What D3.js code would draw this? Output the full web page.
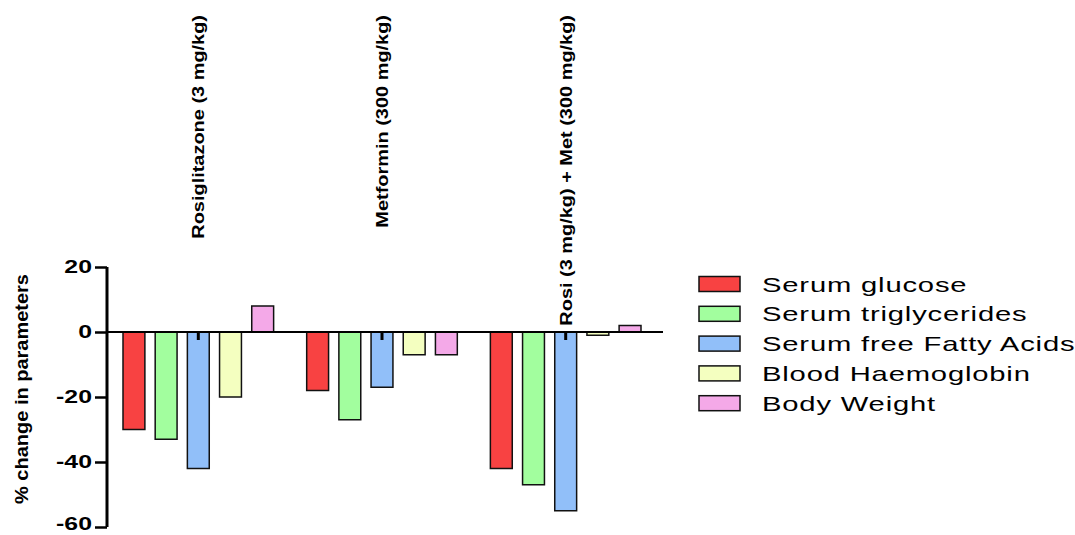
<!DOCTYPE html>
<html>
<head>
<meta charset="utf-8">
<script src="https://cdn.jsdelivr.net/npm/d3@7"></script>
<style>
  body { margin: 0; background: #fff; }
  text { font-family: "Liberation Sans", Arial, sans-serif; fill: #000; }
</style>
</head>
<body>
<div id="chart"></div>
<script>
var width = 1075,
    height = 535;

// data
var groups = ['Rosiglitazone (3 mg/kg)', 'Metformin (300 mg/kg)', 'Rosi (3 mg/kg) + Met (300 mg/kg)'];
var series = ['Serum glucose', 'Serum triglycerides', 'Serum free Fatty Acids', 'Blood Haemoglobin', 'Body Weight'];
var colours = ['#f84242', '#a2fe9e', '#91bff9', '#f4ffc0', '#f4a9e8'];
var glucose = [-30, -18, -42];
var triglycerides = [-33, -27, -47];
var fattyAcids = [-42, -17, -55];
var haemoglobin = [-20, -7, -1];
var bodyWeight = [8, -7, 2];
var yTicks = [20, 0, -20, -40, -60];

var values = [glucose, triglycerides, fattyAcids, haemoglobin, bodyWeight];

var stretch = 1.38; // the original's horizontal text looks widened

var svg = d3.select('#chart').append('svg')
    .attr('width', width)
    .attr('height', height);

var y = d3.scaleLinear()
    .domain([-60, 20])
    .range([527, 267]);

var x0 = d3.scaleBand()
    .domain(groups)
    .range([123, 641])
    .paddingInner(0.18);

var x1 = d3.scaleBand()
    .domain(series)
    .range([0, x0.bandwidth()])
    .paddingInner(0.32);

var colour = d3.scaleOrdinal().domain(series).range(colours);

// bars
var rows = [];
groups.forEach(function(g, gi) {
  series.forEach(function(s, si) {
    rows.push({group: g, series: s, value: values[si][gi]});
  });
});

svg.append('g').selectAll('rect')
  .data(rows)
  .enter().append('rect')
    .attr('x', function(d) { return x0(d.group) + x1(d.series); })
    .attr('y', function(d) { return y(Math.max(0, d.value)); })
    .attr('width', x1.bandwidth())
    .attr('height', function(d) { return Math.abs(y(d.value) - y(0)); })
    .attr('fill', function(d) { return colour(d.series); })
    .attr('stroke', '#111')
    .attr('stroke-width', 1.5);

// zero line with group ticks
svg.append('line')
    .attr('x1', 107).attr('x2', 663)
    .attr('y1', y(0)).attr('y2', y(0))
    .attr('stroke', '#000')
    .attr('stroke-width', 2);

svg.append('g').selectAll('line')
  .data(groups)
  .enter().append('line')
    .attr('x1', function(d) { return x0(d) + x0.bandwidth() / 2; })
    .attr('x2', function(d) { return x0(d) + x0.bandwidth() / 2; })
    .attr('y1', y(0))
    .attr('y2', y(0) + 8)
    .attr('stroke', '#000')
    .attr('stroke-width', 3);

// group labels, rotated, hanging from the top
svg.append('g').selectAll('text')
  .data(groups)
  .enter().append('text')
    .attr('transform', function(d) {
      return 'translate(' + (x0(d) + x0.bandwidth() / 2) + ',15) rotate(-90) scale(1.05,0.9)';
    })
    .attr('text-anchor', 'end')
    .attr('dy', '0.35em')
    .style('font-size', '19px')
    .style('font-weight', 'bold')
    .text(function(d) { return d; });

// y axis
var yAxis = d3.axisLeft(y)
    .tickValues(yTicks)
    .tickSize(12)
    .tickFormat(function(d) { return ''; });

var ax = svg.append('g')
    .attr('transform', 'translate(107,0)')
    .call(yAxis);

ax.select('.domain')
    .attr('stroke', '#000')
    .attr('stroke-width', 3)
    .attr('d', 'M0,' + y(20) + 'V' + y(-60));
ax.selectAll('.tick line')
    .attr('stroke', '#000')
    .attr('stroke-width', 2.5);

svg.append('g').selectAll('text')
  .data(yTicks)
  .enter().append('text')
    .attr('transform', function(d) {
      // bottom label sits a touch higher so it stays inside the frame
      return 'translate(92,' + Math.min(y(d), height - 11) + ') scale(' + stretch + ',1)';
    })
    .attr('text-anchor', 'end')
    .attr('dy', '0.33em')
    .style('font-size', '18px')
    .style('font-weight', 'bold')
    .text(function(d) { return d; });

svg.append('text')
    .attr('transform', 'translate(22,389) rotate(-90) scale(1,0.9)')
    .attr('text-anchor', 'middle')
    .attr('dy', '0.35em')
    .style('font-size', '20px')
    .style('font-weight', 'bold')
    .text('% change in parameters');

// legend
var legend = svg.append('g').selectAll('g')
  .data(series)
  .enter().append('g')
    .attr('transform', function(d, i) { return 'translate(699,' + (284 + i * 29.8) + ')'; });

legend.append('rect')
    .attr('x', 0)
    .attr('y', -7.5)
    .attr('width', 41)
    .attr('height', 15)
    .attr('fill', function(d) { return colour(d); })
    .attr('stroke', '#111')
    .attr('stroke-width', 1.5);

legend.append('text')
    .attr('transform', 'translate(63,0) scale(1.39,1)')
    .attr('dy', '0.36em')
    .style('font-size', '21px')
    .style('letter-spacing', '0.6px')
    .text(function(d) { return d; });
</script>
</body>
</html>
